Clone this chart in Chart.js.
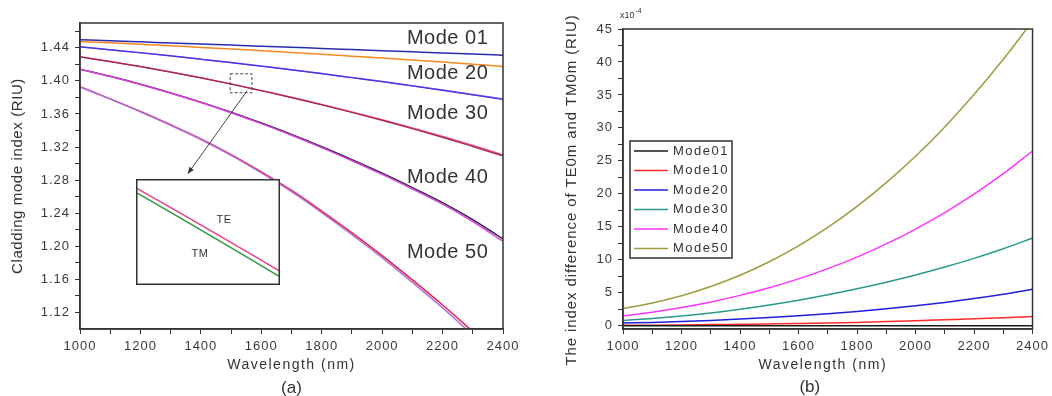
<!DOCTYPE html>
<html lang="en">
<head>
    <meta charset="UTF-8">
    <title>Cladding modes</title>
    <script src="https://cdn.jsdelivr.net/npm/chart.js"></script>
    <style>
        body { margin: 0; background: #fff; width: 1052px; height: 396px; overflow: hidden; }
        .box { position: absolute; }
    </style>
</head>
<body>
<div class="box" style="left:0;top:0;width:525px;height:396px"><canvas id="chartA"></canvas></div>
<div class="box" style="left:136px;top:179px;width:144px;height:106px;background:#fff"><canvas id="inset"></canvas></div>
<div class="box" style="left:530px;top:0;width:522px;height:396px"><canvas id="chartB"></canvas></div>

<script>
    const wavelength = [1000, 1100, 1200, 1300, 1400, 1500, 1600, 1700, 1800, 1900, 2000, 2100, 2200, 2300, 2400];
    const xTicks = [1000, 1200, 1400, 1600, 1800, 2000, 2200, 2400];

    // (a) cladding mode index, TE and TM
    const mode01 = [1.4497, 1.4485, 1.4472, 1.4459, 1.4446, 1.4433, 1.4420, 1.4406, 1.4393, 1.4379, 1.4365, 1.4351, 1.4337, 1.4324, 1.4310];
    const mode10 = [1.4476, 1.4460, 1.4442, 1.4424, 1.4405, 1.4386, 1.4365, 1.4344, 1.4322, 1.4299, 1.4276, 1.4252, 1.4227, 1.4201, 1.4175];
    const mode20TE = [1.4412, 1.4377, 1.4341, 1.4303, 1.4263, 1.4222, 1.4179, 1.4135, 1.4089, 1.4041, 1.3993, 1.3942, 1.3890, 1.3836, 1.3781];
    const mode20TM = [1.4412, 1.4376, 1.4340, 1.4302, 1.4262, 1.4221, 1.4177, 1.4133, 1.4087, 1.4038, 1.3990, 1.3938, 1.3886, 1.3831, 1.3775];
    const mode30TE = [1.4291, 1.4234, 1.4173, 1.4108, 1.4038, 1.3964, 1.3885, 1.3803, 1.3716, 1.3625, 1.3530, 1.3430, 1.3327, 1.3218, 1.3105];
    const mode30TM = [1.4290, 1.4233, 1.4172, 1.4106, 1.4036, 1.3961, 1.3881, 1.3798, 1.3710, 1.3618, 1.3522, 1.3421, 1.3317, 1.3206, 1.3092];
    const mode40TE = [1.4142, 1.4055, 1.3960, 1.3855, 1.3743, 1.3621, 1.3490, 1.3352, 1.3204, 1.3047, 1.2884, 1.2710, 1.2529, 1.2323, 1.2089];
    const mode40TM = [1.4140, 1.4053, 1.3957, 1.3851, 1.3738, 1.3615, 1.3483, 1.3343, 1.3193, 1.3034, 1.2869, 1.2693, 1.2509, 1.2300, 1.2062];
    const mode50TE = [1.3929, 1.3782, 1.3630, 1.3469, 1.3299, 1.3109, 1.2900, 1.2675, 1.2426, 1.2162, 1.1887, 1.1594, 1.1290, 1.0967, 1.0630];
    const mode50TM = [1.3926, 1.3779, 1.3626, 1.3463, 1.3291, 1.3100, 1.2888, 1.2661, 1.2408, 1.2141, 1.1862, 1.1564, 1.1255, 1.0926, 1.0583];
    const yTicksA = [1.12, 1.16, 1.20, 1.24, 1.28, 1.32, 1.36, 1.40, 1.44];
    const modeLabelsA = ['Mode 01', 'Mode 20', 'Mode 30', 'Mode 40', 'Mode 50'];

    // (b) TE0m - TM0m index difference, x1e-4
    const diffLabels = ['Mode01', 'Mode10', 'Mode20', 'Mode30', 'Mode40', 'Mode50'];
    const diff01 = [0, 0, 0, 0, 0, 0, 0, 0, 0, 0, 0, 0, 0, 0, 0];
    const diff10 = [0.05, 0.08, 0.12, 0.17, 0.22, 0.27, 0.33, 0.42, 0.50, 0.62, 0.75, 0.90, 1.05, 1.22, 1.40];
    const diff20 = [0.40, 0.50, 0.63, 0.80, 1.00, 1.24, 1.51, 1.82, 2.17, 2.57, 3.02, 3.53, 4.11, 4.77, 5.52];
    const diff30 = [0.80, 1.10, 1.48, 1.94, 2.49, 3.13, 3.86, 4.68, 5.59, 6.59, 7.69, 8.89, 10.21, 11.66, 13.30];
    const diff40 = [1.50, 2.05, 2.75, 3.60, 4.60, 5.75, 7.10, 8.65, 10.40, 12.40, 14.65, 17.15, 19.95, 23.05, 26.50];
    const diff50 = [2.60, 3.45, 4.55, 5.95, 7.65, 9.70, 12.10, 14.90, 18.10, 21.70, 25.70, 30.15, 35.05, 40.40, 46.20];
    const yTicksB = [0, 5, 10, 15, 20, 25, 30, 35, 40, 45];

    const FONT = '"Liberation Sans", Arial, sans-serif';
    Chart.defaults.font.family = FONT;
    Chart.defaults.color = '#444';

    function line(label, ys, color, width) {
        return {
            label,
            data: wavelength.map((w, i) => ({ x: w, y: ys[i] })),
            borderColor: color,
            borderWidth: width || 1.5,
            pointRadius: 0,
            fill: false,
            cubicInterpolationMode: 'monotone'
        };
    }

    // major ticks plus one minor tick in between each pair
    function withMinor(major, extra) {
        const out = [];
        major.forEach((v, i) => {
            out.push({ value: v });
            if (i < major.length - 1) out.push({ value: (v + major[i + 1]) / 2 });
        });
        (extra || []).forEach(v => out.push({ value: v }));
        return out;
    }

    const isMajor = (list, v) => list.some(t => Math.abs(t - v) < 1e-9);

    function axis(min, max, major, extra, fmt, size) {
        return {
            type: 'linear',
            min, max,
            afterBuildTicks: s => { s.ticks = withMinor(major, extra); },
            afterFit: size,
            ticks: {
                autoSkip: false,
                maxRotation: 0,
                padding: 5,
                font: { size: 13 },
                color: '#3a3a3a',
                callback: v => isMajor(major, v) ? fmt(v) : ''
            },
            grid: { drawOnChartArea: false, drawTicks: true, tickLength: 5, color: '#333' },
            border: { display: true, color: '#333', width: 1.5 }
        };
    }

    function text(ctx, str, x, y, font, spacing, align, rot) {
        ctx.save();
        ctx.translate(x, y);
        if (rot) ctx.rotate(rot);
        ctx.font = font;
        ctx.letterSpacing = spacing;
        ctx.fillStyle = '#333';
        ctx.textAlign = align || 'center';
        ctx.textBaseline = 'middle';
        ctx.fillText(str, 0, 0);
        ctx.restore();
    }

    const spacing = {
        id: 'spacing',
        beforeDraw(chart) { chart.ctx.letterSpacing = '1px'; },
        afterDraw(chart) { chart.ctx.letterSpacing = '0px'; }
    };

    // ---- panel (a)
    const decorA = {
        id: 'decorA',
        afterDraw(chart) {
            const { ctx, chartArea: a, scales: { x, y } } = chart;
            ctx.save();
            ctx.strokeStyle = '#333';
            ctx.lineWidth = 1.5;
            ctx.strokeRect(a.left, a.top, a.width, a.height);

            const labelVals = [1.4509, 1.4086, 1.3603, 1.2830, 1.1924];
            modeLabelsA.forEach((t, i) => {
                text(ctx, t, x.getPixelForValue(2082), y.getPixelForValue(labelVals[i]), '20px ' + FONT, '0.5px', 'left');
            });

            // dashed zoom box and arrow to the inset
            ctx.lineWidth = 1;
            ctx.strokeStyle = '#444';
            ctx.setLineDash([3, 2]);
            const bx = x.getPixelForValue(1497), by = y.getPixelForValue(1.4086);
            ctx.strokeRect(bx, by, x.getPixelForValue(1569) - bx, y.getPixelForValue(1.3857) - by);
            ctx.setLineDash([]);
            const x0 = x.getPixelForValue(1553), y0 = y.getPixelForValue(1.388);
            const x1 = x.getPixelForValue(1357), y1 = y.getPixelForValue(1.2878);
            ctx.beginPath();
            ctx.moveTo(x0, y0);
            ctx.lineTo(x1, y1);
            ctx.stroke();
            const ang = Math.atan2(y1 - y0, x1 - x0);
            ctx.fillStyle = '#333';
            ctx.beginPath();
            ctx.moveTo(x1, y1);
            ctx.lineTo(x1 - 7 * Math.cos(ang - 0.4), y1 - 7 * Math.sin(ang - 0.4));
            ctx.lineTo(x1 - 7 * Math.cos(ang + 0.4), y1 - 7 * Math.sin(ang + 0.4));
            ctx.closePath();
            ctx.fill();

            const cx = (a.left + a.right) / 2;
            text(ctx, 'Wavelength (nm)', cx, 365, '14px ' + FONT, '1.5px');
            text(ctx, '(a)', cx, 388, '17px ' + FONT, '0px');
            text(ctx, 'Cladding mode index (RIU)', 18, (a.top + a.bottom) / 2, '15px ' + FONT, '0.6px', 'center', -Math.PI / 2);
            ctx.restore();
        }
    };

    new Chart(document.getElementById('chartA'), {
        type: 'line',
        data: {
            datasets: [
                line('Mode 01', mode01, '#2b2bb0'),
                line('Mode 10', mode10, '#f5891f'),
                line('Mode 20 TM', mode20TM, '#3a3ae0', 1.2),
                line('Mode 20 TE', mode20TE, '#a050ff'),
                line('Mode 30 TM', mode30TM, '#a02848', 1.2),
                line('Mode 30 TE', mode30TE, '#ea4580'),
                line('Mode 40 TM', mode40TM, '#e040e0'),
                line('Mode 40 TE', mode40TE, '#26264a'),
                line('Mode 50 TM', mode50TM, '#b070e0'),
                line('Mode 50 TE', mode50TE, '#e82040')
            ]
        },
        options: {
            responsive: true,
            maintainAspectRatio: false,
            animation: false,
            layout: { padding: { top: 23, right: 22, left: 0, bottom: 0 } },
            plugins: { legend: { display: false }, tooltip: { enabled: false } },
            scales: {
                x: axis(1000, 2400, xTicks, [], v => String(v), s => { s.height = 67; }),
                y: axis(1.10, 1.47, yTicksA, [1.46], v => v.toFixed(2), s => { s.width = 80; })
            }
        },
        plugins: [spacing, decorA]
    });

    // ---- inset: Mode 30 TE / TM close up
    const decorInset = {
        id: 'decorInset',
        afterDraw(chart) {
            const { ctx, chartArea: a } = chart;
            ctx.save();
            ctx.strokeStyle = '#333';
            ctx.lineWidth = 1.5;
            ctx.strokeRect(a.left + 0.75, a.top + 0.75, a.width - 1.5, a.height - 1.5);
            text(ctx, 'TE', a.left + 88, a.top + 41, '11px ' + FONT, '0.5px');
            text(ctx, 'TM', a.left + 64, a.top + 75, '11px ' + FONT, '0.5px');
            ctx.restore();
        }
    };

    new Chart(document.getElementById('inset'), {
        type: 'line',
        data: { datasets: [line('TM', mode30TM, '#2f9a3f'), line('TE', mode30TE, '#e8408a')] },
        options: {
            responsive: true,
            maintainAspectRatio: false,
            animation: false,
            layout: { padding: 0 },
            plugins: { legend: { display: false }, tooltip: { enabled: false } },
            scales: {
                x: { type: 'linear', display: false, min: 1500, max: 1570 },
                y: { type: 'linear', display: false, min: 1.39000, max: 1.39699 }
            }
        },
        plugins: [decorInset]
    });

    // ---- panel (b)
    const decorB = {
        id: 'decorB',
        afterDraw(chart) {
            const { ctx, chartArea: a } = chart;
            ctx.save();
            ctx.strokeStyle = '#333';
            ctx.lineWidth = 1.5;
            ctx.strokeRect(a.left, a.top, a.width, a.height);

            // legend box
            const lx = a.left + 7, ly = a.top + 112;
            ctx.strokeRect(lx, ly, 102, 117);
            chart.data.datasets.forEach((d, i) => {
                const yy = ly + 10 + i * 19.5;
                ctx.strokeStyle = d.borderColor;
                ctx.lineWidth = 1.5;
                ctx.beginPath();
                ctx.moveTo(lx + 4, yy);
                ctx.lineTo(lx + 38, yy);
                ctx.stroke();
                text(ctx, d.label, lx + 43, yy, '13px ' + FONT, '1.5px', 'left');
            });

            // exponent
            ctx.font = '9px ' + FONT;
            ctx.fillStyle = '#333';
            ctx.textBaseline = 'middle';
            ctx.textAlign = 'left';
            ctx.fillText('x10', a.left - 3, 16);
            const w = ctx.measureText('x10').width;
            ctx.font = '7px ' + FONT;
            ctx.fillText('-4', a.left - 3 + w + 1, 11);

            const cx = (a.left + a.right) / 2;
            text(ctx, 'Wavelength (nm)', cx - 5, 365, '14px ' + FONT, '1.5px');
            text(ctx, '(b)', cx - 18, 387, '17px ' + FONT, '0px');
            text(ctx, 'The index difference of TE0m and TM0m (RIU)', 42, 190, '15px ' + FONT, '0.9px', 'center', -Math.PI / 2);
            ctx.restore();
        }
    };

    const colorsB = ['#1a1a1a', '#ff2a2a', '#1f1fe0', '#2a9a8a', '#ff33ff', '#a09a40'];
    const diffs = [diff01, diff10, diff20, diff30, diff40, diff50];
    new Chart(document.getElementById('chartB'), {
        type: 'line',
        data: { datasets: diffs.map((d, i) => line(diffLabels[i], d, colorsB[i])) },
        options: {
            responsive: true,
            maintainAspectRatio: false,
            animation: false,
            layout: { padding: { top: 29, right: 19, left: 0, bottom: 0 } },
            plugins: { legend: { display: false }, tooltip: { enabled: false } },
            scales: {
                x: axis(1000, 2400, xTicks, [], v => String(v), s => { s.height = 67; }),
                y: axis(-0.5, 45, yTicksB, [], v => String(v), s => { s.width = 93; })
            }
        },
        plugins: [spacing, decorB]
    });
</script>
</body>
</html>
